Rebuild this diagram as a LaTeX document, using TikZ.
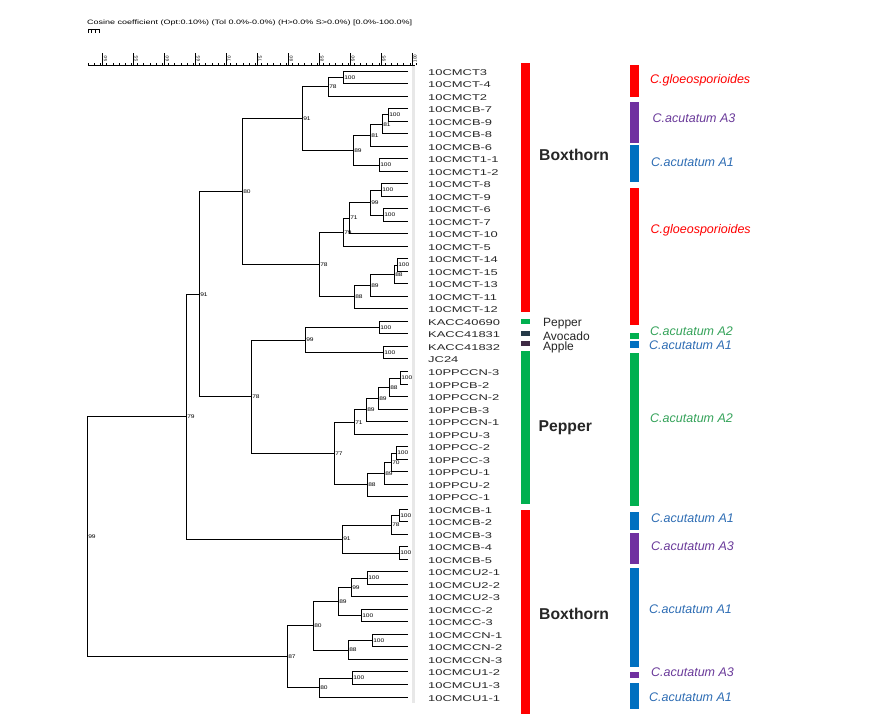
\documentclass[tikz,border=0pt]{standalone}
\usepackage{fontspec}
\setmainfont{Liberation Sans}
\newfontfamily\leaffont[FakeStretch=1.54]{Liberation Sans}
\newfontfamily\nlabfont[FakeStretch=1.25]{Liberation Sans}
\usetikzlibrary{calc}
\definecolor{cred}{HTML}{FF0000}
\definecolor{cpurple}{HTML}{7030A0}
\definecolor{cblue}{HTML}{0070C0}
\definecolor{cgreen}{HTML}{00B050}
\definecolor{tblue}{HTML}{2E6DB4}
\definecolor{tgreen}{HTML}{35A35A}
\definecolor{tpurple}{HTML}{6A3A9A}
\definecolor{cavocado}{HTML}{253A48}
\definecolor{capple}{HTML}{3E2A44}
\definecolor{txt}{HTML}{262626}
\newcommand\clade[5]{%
  \path let \p1=($(#3)!0.5!(#4)$) in coordinate (#1) at (#2pt+0.5pt,\y1);
  \draw[tree] (#3) -| (#1) |- (#4);
  \node[nlab] (#1-l) at (#1) {#5};
}
\begin{document}
\begin{tikzpicture}[x=1pt,y=-1pt,
  tree/.style={line width=1pt,black},
  nlab/.style={anchor=west,inner sep=0pt,xshift=0.6pt,font=\nlabfont\fontsize{5.3}{5.3}\selectfont},
  leaf/.style={anchor=west,inner sep=0pt,text=black!85,font=\leaffont\fontsize{8.4}{9}\selectfont},
  host/.style={anchor=base west,inner sep=0pt,text=txt,font=\fontsize{12}{13}\selectfont},
  hostb/.style={anchor=west,inner sep=0pt,text=txt,font=\bfseries\fontsize{15.7}{16}\selectfont},
  spc/.style={anchor=west,inner sep=0pt,font=\itshape\fontsize{12.5}{13}\selectfont},
  tick/.style={line width=0.6pt,black}]
\useasboundingbox (0,0) rectangle (879,725);
\fill[white] (0,0) rectangle (879,725);

% header
\node[anchor=west,inner sep=0pt] (hdr) at (87,22.5)
  {\resizebox{325pt}{4.6pt}{Cosine coefficient (Opt:0.10\%) (Tol 0.0\%-0.0\%) (H>0.0\% S>0.0\%) [0.0\%-100.0\%]}};
\draw[line width=0.7pt] (88,29) -- (99,29);
\foreach \xx in {88,91.7,95.3,99} \draw[line width=0.7pt] (\xx,29) -- (\xx,33);

% scale axis
\draw[tick] (88,65.5) -- (415,65.5);
\foreach \k in {0,...,53} \draw[line width=0.5pt] ({88+\k*6.19},65.5) -- ({88+\k*6.19},63.5);
\foreach \k [evaluate=\k as \v using int(50+5*\k)] in {0,...,10} {
  \draw[tick] ({102.5+\k*30.95},65.5) -- ({102.5+\k*30.95},53);
  \node[rotate=90,inner sep=0pt,font=\fontsize{4.5}{4.5}\selectfont] at ({105.5+\k*30.95},58.5) {\v};
}

% faint band at leaf ends
\fill[black!9] (411.5,66) rectangle (415,703);

% leaves
\foreach \lab [count=\i] in {10CMCT3,10CMCT-4,10CMCT2,10CMCB-7,10CMCB-9,10CMCB-8,10CMCB-6,10CMCT1-1,10CMCT1-2,10CMCT-8,10CMCT-9,10CMCT-6,10CMCT-7,10CMCT-10,10CMCT-5,10CMCT-14,10CMCT-15,10CMCT-13,10CMCT-11,10CMCT-12,KACC40690,KACC41831,KACC41832,JC24,10PPCCN-3,10PPCB-2,10PPCCN-2,10PPCB-3,10PPCCN-1,10PPCU-3,10PPCC-2,10PPCC-3,10PPCU-1,10PPCU-2,10PPCC-1,10CMCB-1,10CMCB-2,10CMCB-3,10CMCB-4,10CMCB-5,10CMCU2-1,10CMCU2-2,10CMCU2-3,10CMCC-2,10CMCC-3,10CMCCN-1,10CMCCN-2,10CMCCN-3,10CMCU1-2,10CMCU1-3,10CMCU1-1} {
  \pgfmathsetmacro\yy{floor(71+(\i-1)*12.52)+0.5}
  \coordinate (e\i) at (408,\yy);
  \node[leaf] (t\i) at (428,\yy+1) {\lab};
}

% top Boxthorn clade
\clade{G}{343}{e1}{e2}{100}
\clade{F}{328}{G}{e3}{78}
\clade{H}{388}{e4}{e5}{100}
\clade{I}{382}{H}{e6}{81}
\clade{J}{370}{I}{e7}{81}
\clade{K}{379}{e8}{e9}{100}
\clade{L}{353}{J}{K}{89}
\clade{E}{302}{F}{L}{91}
\clade{M}{381}{e10}{e11}{100}
\clade{N}{383}{e12}{e13}{100}
\clade{O}{370}{M}{N}{99}
\clade{P}{349}{O}{e14}{71}
\clade{Q}{343}{P}{e15}{79}
\clade{R}{397}{e16}{e17}{100}
\clade{S}{394}{R}{e18}{88}
\clade{T}{370}{S}{e19}{89}
\clade{U}{354}{T}{e20}{88}
\clade{V}{319}{Q}{U}{78}
\clade{C}{242}{E}{V}{80}
% KACC + pepper
\clade{W}{379}{e21}{e22}{100}
\clade{X}{383}{e23}{e24}{100}
\clade{Y}{305}{W}{X}{99}
\clade{pa}{400}{e25}{e26}{100}
\clade{pb}{389}{pa}{e27}{88}
\clade{pc}{378}{pb}{e28}{89}
\clade{pd}{366}{pc}{e29}{89}
\clade{pe}{354}{pd}{e30}{71}
\clade{pf}{396}{e31}{e32}{100}
\clade{pg}{391}{pf}{e33}{70}
\clade{ph}{384}{pg}{e34}{89}
\clade{pi}{367}{ph}{e35}{88}
\clade{pj}{334}{pe}{pi}{77}
\clade{D}{251}{Y}{pj}{78}
\clade{B}{199}{C}{D}{91}
% bottom Boxthorn
\clade{bk}{399}{e36}{e37}{100}
\clade{bl}{391}{bk}{e38}{78}
\clade{bm}{399}{e39}{e40}{100}
\clade{bn}{342}{bl}{bm}{91}
\clade{A}{186}{B}{bn}{79}
\clade{bo}{367}{e41}{e42}{100}
\clade{bp}{351}{bo}{e43}{99}
\clade{bq}{361}{e44}{e45}{100}
\clade{br}{338}{bp}{bq}{89}
\clade{bs}{372}{e46}{e47}{100}
\clade{bt}{348}{bs}{e48}{88}
\clade{bu}{313}{br}{bt}{80}
\clade{bv}{352}{e49}{e50}{100}
\clade{bw}{319}{bv}{e51}{80}
\clade{bx}{287}{bu}{bw}{87}
\clade{root}{87}{A}{bx}{99}

% host bars
\fill[cred] (520.5,63) rectangle (530,312);
\fill[cgreen] (520.5,319.3) rectangle (530,324);
\fill[cavocado] (520.5,330.7) rectangle (530,335.7);
\fill[capple] (520.5,341) rectangle (530,345.7);
\fill[cgreen] (520.5,351) rectangle (530,504);
\fill[cred] (520.5,510) rectangle (530,714);
\node[hostb] (hb1) at (539,155) {Boxthorn};
\node[host] (hp) at (543,326.7) {Pepper};
\node[host] (ha) at (543,340.6) {Avocado};
\node[host] (hap) at (543,350.9) {Apple};
\node[hostb] (hp2) at (538.5,428) {Pepper};
\node[hostb] (hb2) at (539,614) {Boxthorn};

% species bars
\fill[cred] (630,65) rectangle (639,96.7);
\fill[cpurple] (630,101.7) rectangle (639,142.7);
\fill[cblue] (630,145) rectangle (639,181.7);
\fill[cred] (630,187.7) rectangle (639,325);
\fill[cgreen] (630,332.7) rectangle (639,338.7);
\fill[cblue] (630,341.3) rectangle (639,347.7);
\fill[cgreen] (630,352.7) rectangle (639,505.7);
\fill[cblue] (630,511.7) rectangle (639,530);
\fill[cpurple] (630,532.7) rectangle (639,564.3);
\fill[cblue] (630,567.7) rectangle (639,667.3);
\fill[cpurple] (630,671.7) rectangle (639,677.7);
\fill[cblue] (630,682.7) rectangle (639,709);

\node[spc,text=cred] (s1) at (650,80) {C.gloeosporioides};
\node[spc,text=tpurple] (s2) at (652.5,118.3) {C.acutatum A3};
\node[spc,text=tblue] (s3) at (651,161.7) {C.acutatum A1};
\node[spc,text=cred] (s4) at (650.5,230) {C.gloeosporioides};
\node[spc,text=tgreen] (s5) at (650,330.7) {C.acutatum A2};
\node[spc,text=tblue] (s6) at (649,345) {C.acutatum A1};
\node[spc,text=tgreen] (s7) at (650,418.3) {C.acutatum A2};
\node[spc,text=tblue] (s8) at (651,518.3) {C.acutatum A1};
\node[spc,text=tpurple] (s9) at (651,546) {C.acutatum A3};
\node[spc,text=tblue] (s10) at (649,609.3) {C.acutatum A1};
\node[spc,text=tpurple] (s11) at (651,672.3) {C.acutatum A3};
\node[spc,text=tblue] (s12) at (649,696.7) {C.acutatum A1};
\end{tikzpicture}
\end{document}
